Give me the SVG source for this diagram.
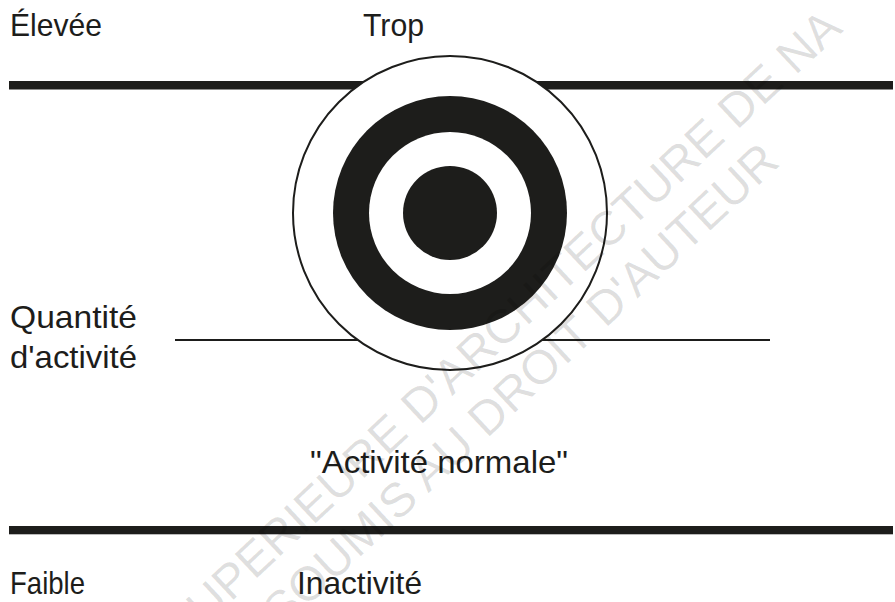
<svg xmlns="http://www.w3.org/2000/svg" width="895" height="602" viewBox="0 0 895 602">
  <style>
    .lbl { font-family: "Liberation Sans", Arial, sans-serif; font-size: 32px; fill: #1d1d1b; }
    .wm { font-family: "Liberation Sans", Arial, sans-serif; font-size: 48px; fill: #000; fill-opacity: 0.13; }
    .bar { fill: #1d1d1b; }
    .thin { stroke: #1d1d1b; stroke-width: 2.2; fill: none; }
  </style>
  <rect width="895" height="602" fill="#ffffff"/>
  <g id="connectors">
    <rect class="bar" x="9" y="81" width="884" height="8.5"/>
    <rect class="bar" x="9" y="526" width="884" height="8.3"/>
    <line class="thin" x1="175" y1="340" x2="770" y2="340"/>
  </g>
  <g id="target">
    <circle cx="450" cy="213" r="157" fill="#ffffff" stroke="#1d1d1b" stroke-width="2"/>
    <circle cx="450" cy="213" r="117" fill="#1d1d1b"/>
    <circle cx="450" cy="213" r="81" fill="#ffffff"/>
    <circle cx="450" cy="213" r="47" fill="#1d1d1b"/>
  </g>
  <g id="label-elevee"><text class="lbl" x="10" y="36" textLength="92" lengthAdjust="spacingAndGlyphs">Élevée</text></g>
  <g id="label-trop"><text class="lbl" x="363" y="36" textLength="61" lengthAdjust="spacingAndGlyphs">Trop</text></g>
  <g id="label-quantite">
    <text class="lbl" x="10" y="328" textLength="127" lengthAdjust="spacingAndGlyphs">Quantité</text>
    <text class="lbl" x="10" y="368" textLength="127" lengthAdjust="spacingAndGlyphs">d'activité</text>
  </g>
  <g id="label-normale"><text class="lbl" x="310" y="473" textLength="258" lengthAdjust="spacingAndGlyphs">"Activité normale"</text></g>
  <g id="label-faible"><text class="lbl" x="10" y="594" textLength="75" lengthAdjust="spacingAndGlyphs">Faible</text></g>
  <g id="label-inactivite"><text class="lbl" x="297" y="594" textLength="125" lengthAdjust="spacingAndGlyphs">Inactivité</text></g>
  <g id="watermark">
    <text class="wm" transform="translate(182 648) rotate(-43)">SUPERIEURE D'ARCHITECTURE DE NA</text>
    <text class="wm" transform="translate(282 630) rotate(-43)">SOUMIS AU DROIT D'AUTEUR</text>
  </g>
</svg>
